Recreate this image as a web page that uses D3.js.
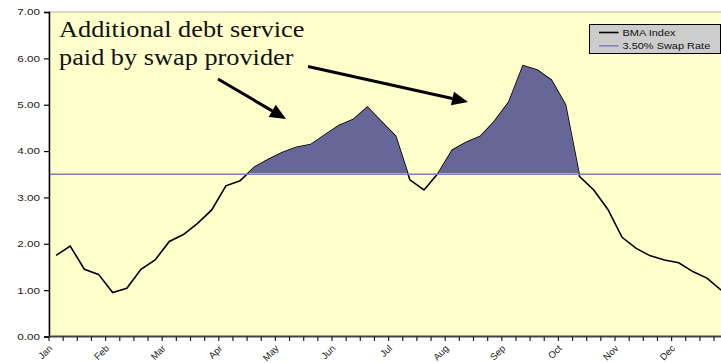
<!DOCTYPE html>
<html>
<head>
<meta charset="utf-8">
<script src="https://cdn.jsdelivr.net/npm/d3@7/dist/d3.min.js"></script>
<style>
  body { margin: 0; background: #ffffff; }
  svg { display: block; }
  .sans { font-family: Arial, "Liberation Sans", sans-serif; }
</style>
</head>
<body>
<svg id="chart" width="721" height="363"></svg>
<script>
// Weekly observations, one per category on the x axis
const weeks = [
  1, 2, 3, 4, 5, 6, 7, 8, 9, 10, 11, 12,
  13, 14, 15, 16, 17, 18, 19, 20, 21, 22, 23, 24,
  25, 26, 27, 28, 29, 30, 31, 32, 33, 34, 35, 36,
  37, 38, 39, 40, 41, 42, 43, 44, 45, 46, 47, 48
];
// Month names shown on every fourth week
const monthLabels = ["Jan", "Feb", "Mar", "Apr", "May", "Jun", "Jul", "Aug", "Sep", "Oct", "Nov", "Dec"];
// BMA index level (%) per week
const bmaIndex = [
  1.75, 1.95, 1.45, 1.34, 0.95, 1.04, 1.45, 1.65, 2.05, 2.20, 2.44, 2.73,
  3.25, 3.36, 3.65, 3.82, 3.97, 4.08, 4.14, 4.35, 4.55, 4.68, 4.95, 4.63,
  4.32, 3.38, 3.16, 3.52, 4.02, 4.19, 4.32, 4.65, 5.06, 5.84, 5.75, 5.53,
  5.00, 3.45, 3.16, 2.74, 2.14, 1.90, 1.74, 1.65, 1.59, 1.40, 1.26, 1.00
];
// Fixed swap rate (%)
const swapRate = 3.5;
const yTicks = [0, 1, 2, 3, 4, 5, 6, 7];
const legendItems = ["BMA Index", "3.50% Swap Rate"];
const annotationLines = ["Additional debt service", "paid by swap provider"];

const svg = d3.select("#chart");
const plot = { left: 49, top: 12, bottom: 336.5, right: 728.2 };

const x = d3.scaleBand().domain(weeks).range([plot.left, plot.right]).padding(0);
const cx = w => x(w) + x.bandwidth() / 2;
const y = d3.scaleLinear().domain([0, 7]).range([plot.bottom, plot.top]);

// Plot area
svg.append("rect")
  .attr("x", plot.left).attr("y", plot.top)
  .attr("width", plot.right - plot.left).attr("height", plot.bottom - plot.top)
  .attr("fill", "#ffffcc").attr("stroke", "#b4b4a8").attr("stroke-width", 1);

const series = weeks.map((w, i) => ({ w, v: bmaIndex[i] }));

// BMA index line
const line = d3.line().x(d => cx(d.w)).y(d => y(d.v));
svg.append("path").datum(series)
  .attr("d", line).attr("fill", "none")
  .attr("stroke", "#000").attr("stroke-width", 1.6).attr("stroke-linejoin", "miter");

// Shaded region where the index exceeds the swap rate
svg.append("clipPath").attr("id", "aboveSwap")
  .append("rect")
  .attr("x", plot.left).attr("y", plot.top)
  .attr("width", plot.right - plot.left).attr("height", y(swapRate) - plot.top - 1);

const area = d3.area().x(d => cx(d.w)).y0(y(swapRate)).y1(d => y(d.v));
svg.append("path").datum(series)
  .attr("d", area).attr("fill", "#666699")
  .attr("clip-path", "url(#aboveSwap)");

// Swap rate line
svg.append("line")
  .attr("x1", plot.left).attr("x2", plot.right)
  .attr("y1", y(swapRate)).attr("y2", y(swapRate))
  .attr("stroke", "#8080b8").attr("stroke-width", 1.5);

// Y axis
const yAxis = d3.axisLeft(y).tickValues(yTicks).tickFormat(d3.format(".2f")).tickSize(5).tickPadding(4);
const gy = svg.append("g").attr("transform", `translate(${plot.left},0)`).call(yAxis);
gy.select(".domain").attr("stroke", "#000").attr("stroke-width", 1.5);
gy.selectAll(".tick line").attr("stroke", "#000").attr("stroke-width", 1.2);
gy.selectAll(".tick text")
  .attr("class", "sans").attr("font-size", 9).attr("fill", "#222")
  .attr("x", 0).attr("text-anchor", "end")
  .attr("transform", "translate(-9,0) scale(1.3,1)");

// X axis: ticks on week boundaries, month labels every four weeks
const xTick = d3.scaleLinear().domain([0, weeks.length]).range([plot.left, plot.right]);
const gx = svg.append("g").attr("transform", `translate(0,${plot.bottom})`);
gx.append("line").attr("x1", plot.left).attr("x2", plot.right)
  .attr("stroke", "#444").attr("stroke-width", 2);
gx.selectAll("line.tk").data(d3.range(weeks.length + 1)).join("line")
  .attr("class", "tk")
  .attr("x1", d => xTick(d)).attr("x2", d => xTick(d))
  .attr("y1", 0).attr("y2", 4.5)
  .attr("stroke", "#222").attr("stroke-width", 1.2);
gx.selectAll("text").data(monthLabels).join("text")
  .attr("class", "sans").attr("font-size", 9.5).attr("fill", "#222")
  .attr("text-anchor", "end")
  .attr("transform", (m, i) => `translate(${cx(weeks[i * 4]) - 3},${12.5}) rotate(-45)`)
  .text(m => m);

// Legend
const lg = svg.append("g").attr("transform", "translate(589.5,24.5)");
lg.append("rect").attr("width", 131).attr("height", 29)
  .attr("fill", "#cccccc").attr("stroke", "#000").attr("stroke-width", 1);
const legendColors = ["#000", "#8080b8"];
legendItems.forEach((label, i) => {
  const ly = 8 + i * 13.4;
  lg.append("line").attr("x1", 9.5).attr("x2", 29).attr("y1", ly).attr("y2", ly)
    .attr("stroke", legendColors[i]).attr("stroke-width", i === 0 ? 1.6 : 1.5);
  lg.append("text").attr("class", "sans").attr("font-size", 9.8).attr("fill", "#111")
    .attr("x", 0).attr("y", ly + 3.5)
    .attr("transform", "translate(33,0) scale(1.12,1)")
    .text(label);
});

// Annotation text
svg.selectAll("text.note").data(annotationLines).join("text")
  .attr("class", "note")
  .attr("x", 0).attr("y", (d, i) => 37.3 + i * 28)
  .attr("transform", "translate(59,0) scale(1.12,1)")
  .attr("font-family", "'Liberation Serif', 'Times New Roman', serif").attr("font-size", 23.5)
  .attr("fill", "#111")
  .text(d => d);

// Annotation arrows
function arrow(x1, y1, x2, y2) {
  const ang = Math.atan2(y2 - y1, x2 - x1);
  const headLen = 16, headHalf = 7;
  const bx = x2 - headLen * Math.cos(ang), by = y2 - headLen * Math.sin(ang);
  svg.append("line").attr("x1", x1).attr("y1", y1).attr("x2", bx).attr("y2", by)
    .attr("stroke", "#000").attr("stroke-width", 3);
  const px = -Math.sin(ang) * headHalf, py = Math.cos(ang) * headHalf;
  svg.append("path")
    .attr("d", `M${x2},${y2}L${bx + px},${by + py}L${bx - px},${by - py}Z`)
    .attr("fill", "#000");
}
arrow(218, 79, 286, 119);
arrow(308, 66.5, 468, 102);
</script>
</body>
</html>
